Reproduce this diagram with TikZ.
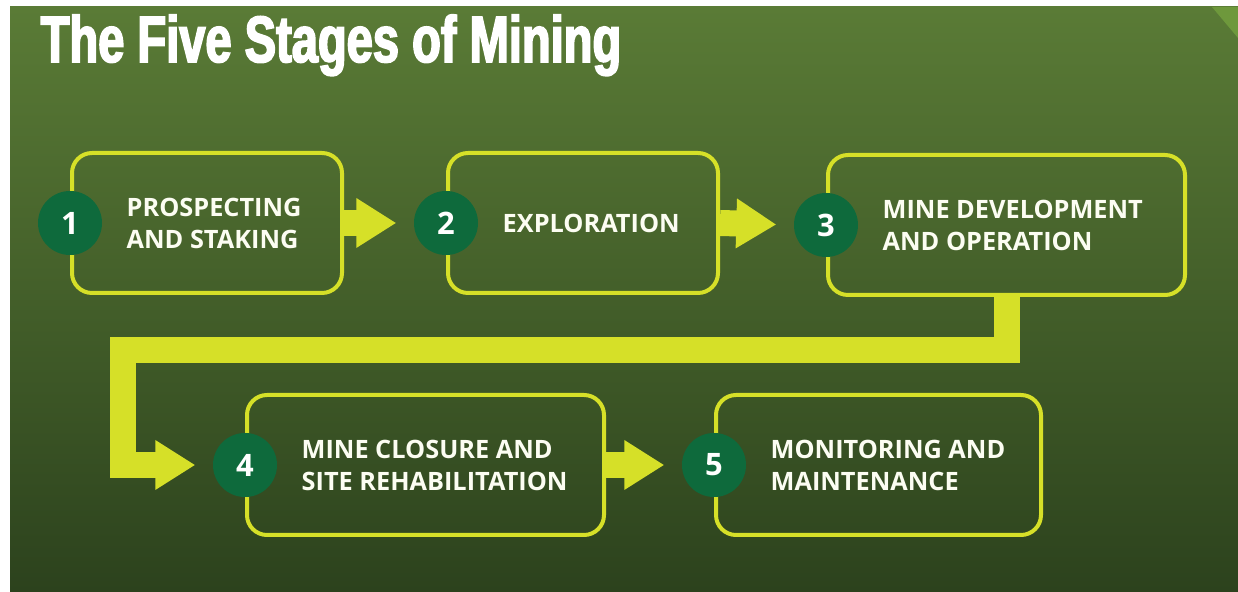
\documentclass[tikz,border=0pt]{standalone}
\usepackage{fontspec}
\setmainfont{Open Sans}
\newfontfamily\titlefont[FakeStretch=0.72,FakeBold=2.6]{Liberation Sans}
\usetikzlibrary{arrows.meta, positioning}

\definecolor{bgtop}{RGB}{90,123,54}
\definecolor{bgmid}{RGB}{76,106,44}
\definecolor{bgbot}{RGB}{44,66,29}
\definecolor{lime}{RGB}{214,224,40}
\definecolor{stagegreen}{RGB}{14,106,60}
\definecolor{cornergreen}{RGB}{110,152,60}

\begin{document}
\begin{tikzpicture}[
    stagebox/.style={draw=lime, line width=0.04cm, rounded corners=0.2cm, minimum height=1.4cm},
    stagenum/.style={circle, fill=stagegreen, minimum size=0.64cm, inner sep=0, text=white, font=\bfseries\fontsize{8.8}{10}\selectfont},
    stagetext/.style={inner sep=0, align=left, text=white!94!lime, font=\bfseries\fontsize{7.2}{9.1}\selectfont},
    band/.style={draw=lime, line width=0.26cm, line join=miter, -{Triangle[length=0.4cm,width=0.47cm]}, shorten >=0.17cm}
]

% Background
\useasboundingbox (0,0) rectangle (12.38,5.92);
\fill[white] (0,0) rectangle (12.38,5.92);
\shade[top color=bgtop, middle color=bgmid, bottom color=bgbot] (0.10,0) rectangle (12.38,5.85);
\fill[cornergreen] (12.12,5.85) -- (12.38,5.85) -- (12.38,5.54) -- cycle;

% Title
\node[anchor=base west, inner sep=0, text=white, font=\titlefont\bfseries\fontsize{18.6}{20}\selectfont] (title) at (0.40,5.30) {The Five Stages of Mining};

% Stage boxes
\node[stagebox, minimum width=2.70cm] (b1) at (2.07,3.69) {};
\node[stagebox, minimum width=2.70cm] (b2) at (5.83,3.69) {};
\node[stagebox, minimum width=3.57cm] (b3) at (10.065,3.67) {};
\node[stagebox, minimum width=3.57cm] (b4) at (4.255,1.27) {};
\node[stagebox, minimum width=3.25cm] (b5) at (8.785,1.27) {};

% Numbers on the left edges
\node[stagenum] (n1) at (b1.west) {1};
\node[stagenum] (n2) at (b2.west) {2};
\node[stagenum] (n3) at (b3.west) {3};
\node[stagenum] (n4) at (b4.west) {4};
\node[stagenum] (n5) at (b5.west) {5};

% Stage names
\node[stagetext, right=0.56cm of b1.west] (t1) {PROSPECTING\\AND STAKING};
\node[stagetext, right=0.56cm of b2.west] (t2) {EXPLORATION};
\node[stagetext, right=0.56cm of b3.west] (t3) {MINE DEVELOPMENT\\AND OPERATION};
\node[stagetext, right=0.56cm of b4.west] (t4) {MINE CLOSURE AND\\SITE REHABILITATION};
\node[stagetext, right=0.56cm of b5.west] (t5) {MONITORING AND\\MAINTENANCE};

% Flow arrows
\draw[band] (b1.east) -- (n2.west);
\draw[band] (b2.east) -- (n3.west);
\coordinate (elbow) at (1.225,2.42);
\draw[band] (b3.south) |- (elbow) |- (n4.west);
\draw[band] (b4.east) -- (n5.west);

\end{tikzpicture}
\end{document}
